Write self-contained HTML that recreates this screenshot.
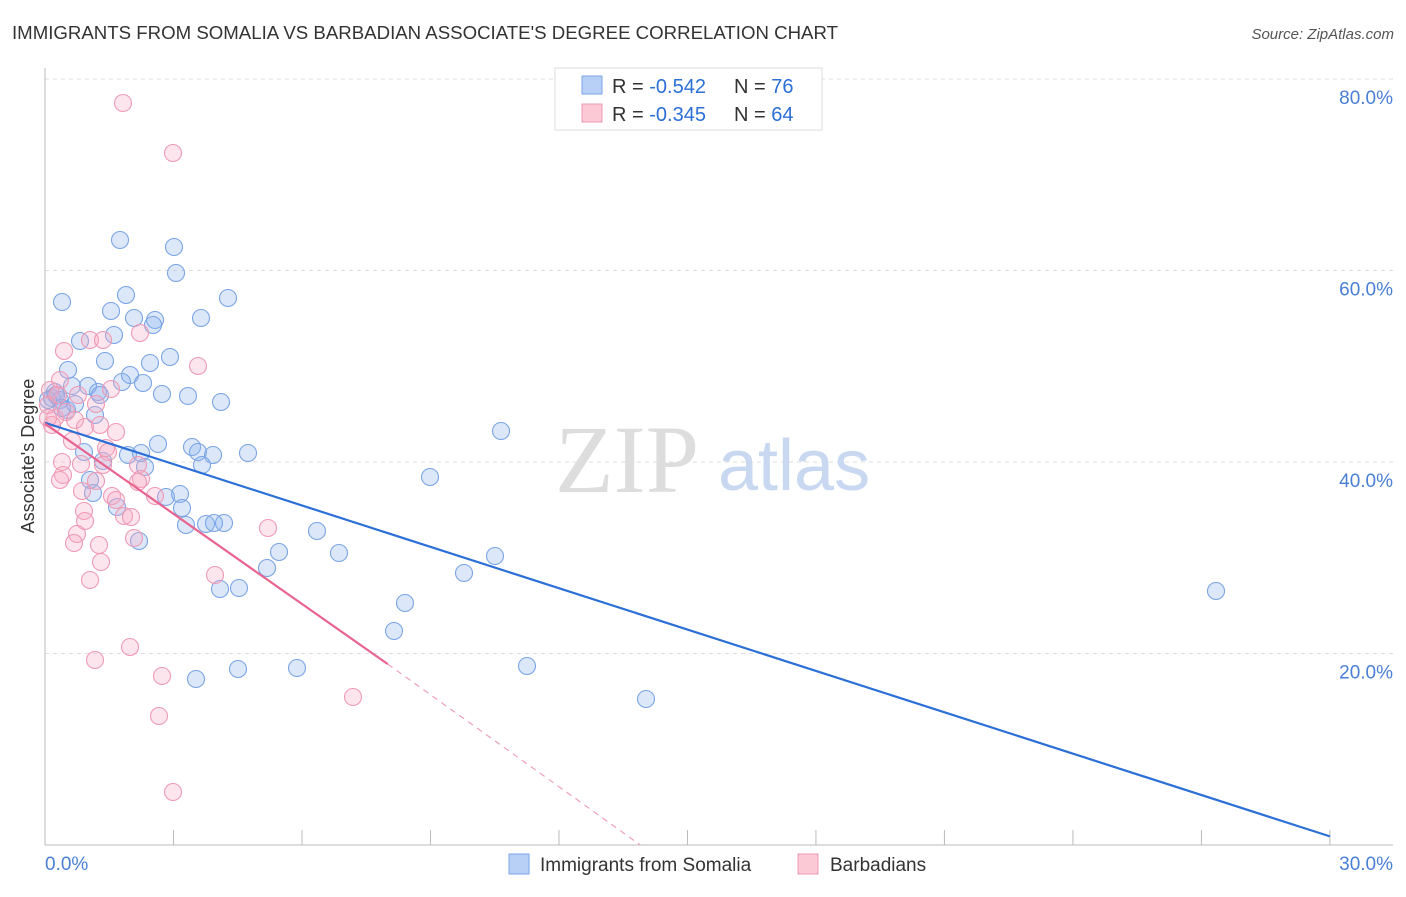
<!DOCTYPE html>
<html><head><meta charset="utf-8"><style>
body{margin:0;background:#fff;font-family:"Liberation Sans",sans-serif}
</style></head><body>
<svg width="1406" height="892" xmlns="http://www.w3.org/2000/svg" font-family="Liberation Sans, sans-serif">
<text x="12" y="39" font-size="18" fill="#333" textLength="826" lengthAdjust="spacingAndGlyphs">IMMIGRANTS FROM SOMALIA VS BARBADIAN ASSOCIATE'S DEGREE CORRELATION CHART</text>
<text x="1394" y="39" font-size="15" fill="#555" font-style="italic" text-anchor="end">Source: ZipAtlas.com</text>
<g id="grid"></g>
<g id="axes"></g>
<text x="555" y="492" font-size="96" fill="#ddd" font-family="Liberation Serif, serif">ZIP</text>
<text x="718" y="490" font-size="72" fill="#c8d8f0">atlas</text>
<text transform="translate(34,456) rotate(-90)" font-size="18" fill="#333" text-anchor="middle">Associate's Degree</text>
<g id="pts"></g>
<g id="lines"></g>
<g>
<rect x="555" y="68" width="267" height="62" fill="#fff" stroke="#ddd"/>
<rect x="582" y="76" width="20" height="18" fill="#b8d0f5" stroke="#7aa4e6"/>
<rect x="582" y="104" width="20" height="18" fill="#fbc8d6" stroke="#ef9ab4"/>
<text x="612" y="93" font-size="20" fill="#333">R = <tspan fill="#2c6fd6">-0.542</tspan></text>
<text x="734" y="93" font-size="20" fill="#333">N = <tspan fill="#2c6fd6">76</tspan></text>
<text x="612" y="121" font-size="20" fill="#333">R = <tspan fill="#2c6fd6">-0.345</tspan></text>
<text x="734" y="121" font-size="20" fill="#333">N = <tspan fill="#2c6fd6">64</tspan></text>
</g>
<g>
<rect x="509" y="854" width="20" height="20" fill="#b8d0f5" stroke="#7aa4e6"/>
<text x="540" y="871" font-size="19" fill="#333">Immigrants from Somalia</text>
<rect x="798" y="854" width="20" height="20" fill="#fbc8d6" stroke="#ef9ab4"/>
<text x="830" y="871" font-size="19" fill="#333">Barbadians</text>
</g>
</svg>
<script>
const yTicks=[20,40,60,80];
const xTickLabels=["0.0%","30.0%"];
const bluePx=[[120,240],[174,247],[176,273],[62,302],[126,295],[228,298],[111,311],[134,318],[155,320],[153,325],[201,318],[114,335],[80,341],[170,357],[105,361],[150,363],[68,370],[130,375],[122,382],[143,383],[72,386],[88,386],[98,392],[162,394],[188,396],[221,402],[55,392],[52,398],[60,400],[48,400],[67,410],[95,415],[501,431],[158,444],[192,447],[128,455],[198,452],[213,455],[248,453],[84,452],[141,453],[103,461],[145,467],[202,465],[430,477],[90,480],[180,494],[166,497],[93,493],[117,507],[182,508],[186,525],[206,524],[224,523],[214,523],[317,531],[139,541],[279,552],[339,553],[495,556],[267,568],[464,573],[220,589],[239,588],[405,603],[1216,591],[394,631],[527,666],[238,669],[297,668],[196,679],[646,699],[56,395],[62,408],[75,404],[100,395]];
const pinkPx=[[123,103],[173,153],[64,351],[90,340],[103,340],[140,333],[198,366],[111,389],[96,404],[60,380],[50,390],[48,405],[55,418],[66,412],[75,420],[85,427],[116,432],[72,441],[106,448],[108,452],[62,462],[81,464],[103,465],[138,465],[63,475],[60,480],[96,481],[141,479],[82,491],[112,496],[116,500],[155,496],[138,482],[124,516],[131,517],[84,511],[85,521],[77,534],[134,538],[74,543],[99,545],[268,528],[101,562],[90,580],[215,575],[130,647],[95,660],[162,676],[159,716],[353,697],[173,792],[52,425],[58,395],[48,418],[78,395],[100,425]];
const toX=p=>(p-45)/42.83, toY=p=>(845-p)/9.575;
const blueX=bluePx.map(p=>toX(p[0])), blueY=bluePx.map(p=>toY(p[1]));
const pinkX=pinkPx.map(p=>toX(p[0])), pinkY=pinkPx.map(p=>toY(p[1]));
const blueTrend=[[0,44.1],[30,0.9]];
const pinkTrend=[[0,44.0],[8.0,18.9],[13.9,0]];
const sx=v=>45+v*42.83, sy=v=>845-v*9.575;
const NS="http://www.w3.org/2000/svg";
function mk(tag,attrs,parent){const e=document.createElementNS(NS,tag);for(const k in attrs)e.setAttribute(k,attrs[k]);parent.appendChild(e);return e;}
const grid=document.getElementById('grid'),axes=document.getElementById('axes');
yTicks.forEach(t=>{
 const l=mk('line',{x1:45,x2:1393,y1:sy(t),y2:sy(t),stroke:'#ddd','stroke-dasharray':'4,4'},grid);
 
 
 const tx=mk('text',{x:1393,y:sy(t)+25,'font-size':19,fill:'#4a7fd6','text-anchor':'end'},axes);
 tx.textContent=t.toFixed(1)+'%';
 
 
});
mk('line',{x1:45,x2:45,y1:68,y2:845,stroke:'#bbb'},axes);
mk('line',{x1:45,x2:1393,y1:845,y2:845,stroke:'#bbb'},axes);
for(let i=0;i<=10;i++){mk('line',{x1:sx(i*3),x2:sx(i*3),y1:830,y2:845,stroke:'#bbb'},axes);}
const x0=mk('text',{x:45,y:870,'font-size':19,fill:'#4a7fd6'},axes);x0.textContent=xTickLabels[0];


const x1=mk('text',{x:1393,y:870,'font-size':19,fill:'#4a7fd6','text-anchor':'end'},axes);x1.textContent=xTickLabels[1];


const pts=document.getElementById('pts');
blueX.forEach((x,i)=>{const c=mk('circle',{cx:sx(x),cy:sy(blueY[i]),r:8.5,fill:'rgba(140,180,240,0.3)',stroke:'#7aa4e6','stroke-width':1.1},pts);
 
 });
pinkX.forEach((x,i)=>{const c=mk('circle',{cx:sx(x),cy:sy(pinkY[i]),r:8.5,fill:'rgba(248,170,195,0.3)',stroke:'#ef9ab4','stroke-width':1.1},pts);
 
 });
const lines=document.getElementById('lines');
const bl=mk('line',{x1:sx(blueTrend[0][0]),y1:sy(blueTrend[0][1]),x2:sx(blueTrend[1][0]),y2:sy(blueTrend[1][1]),stroke:'#2c6fd6','stroke-width':2.2},lines);


const pl=mk('line',{x1:sx(pinkTrend[0][0]),y1:sy(pinkTrend[0][1]),x2:sx(pinkTrend[1][0]),y2:sy(pinkTrend[1][1]),stroke:'#e8648f','stroke-width':2.2},lines);


const pd=mk('line',{x1:sx(pinkTrend[1][0]),y1:sy(pinkTrend[1][1]),x2:sx(pinkTrend[2][0]),y2:sy(pinkTrend[2][1]),stroke:'#efa0b8','stroke-width':1.2,'stroke-dasharray':'6,5'},lines);


</script>
</body></html>
